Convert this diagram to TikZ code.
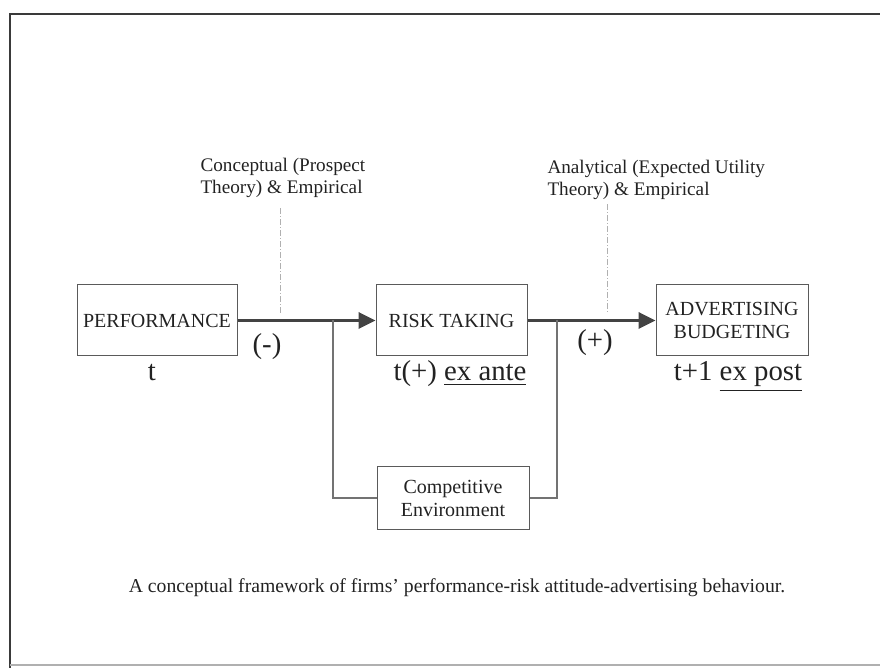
\documentclass[tikz,border=0pt]{standalone}
\usepackage{fontspec}
\setmainfont{Liberation Serif}
\usetikzlibrary{arrows.meta, positioning}
\definecolor{cink}{HTML}{222222}
\definecolor{cframe}{HTML}{3A3A3A}
\definecolor{cbox}{HTML}{5A5A5A}
\definecolor{cguide}{HTML}{B0B0B0}
\tikzset{
  every picture/.style={line width=0.5pt},
  box/.style={draw=cbox, text=cink, align=center, inner sep=2pt, minimum width=#1, minimum height=35.5pt, font=\fontsize{10}{11.5}\selectfont},
  box/.default=76pt,
  link/.style={-{Triangle[length=8.5pt, width=8pt]}, draw=cink!85, line width=1.7pt},
  feed/.style={draw=cbox!85, line width=0.6pt},
  guide/.style={draw=cguide, dash pattern=on 3pt off 1pt on 0.5pt off 1pt, line width=0.5pt},
  source/.style={font=\fontsize{9.6}{11}\selectfont, text=cink, align=left, anchor=north west, inner sep=0pt},
  sign/.style={font=\Large, text=cink},
  period/.style={font=\Large, text=cink, anchor=base},
}
\begin{document}
\begin{tikzpicture}[x=0.5pt, y=-0.5pt]
  \useasboundingbox (0,0) rectangle (880,668);
  % page frame
  \draw[cframe, line width=0.8pt] (880,14) -- (10,14) -- (10,668);
  \draw[cguide, line width=0.8pt] (10,665) -- (880,665);

  % boxes
  \node[box=80pt] (perf) at (157,320.5) {PERFORMANCE};
  \node[box=75.5pt] (risk) at (451.5,320.5) {RISK TAKING};
  \node[box] (adv) at (732,320.5) {ADVERTISING\\BUDGETING};
  \node[box, minimum height=31.5pt] (env) at (453,498) {Competitive\\Environment};

  % sources
  \node[source] (src1) at (200,158) {Conceptual (Prospect\\Theory) \& Empirical};
  \node[source] (src2) at (547,160) {Analytical (Expected Utility\\Theory) \& Empirical};

  % main links
  \draw[link] (perf.east) -- (risk.west);
  \draw[link] (risk.east) -- (adv.west);

  % competitive environment loop
  \coordinate (tap1) at (333,320.5);
  \coordinate (tap2) at (557,320.5);
  \draw[feed] (tap1) |- (env.west);
  \draw[feed] (tap2) |- (env.east);

  % guides from sources
  \coordinate (g1) at (280,313);
  \coordinate (g2) at (607,312);
  \draw[guide] ([yshift=-5pt]g1 |- src1.south) -- (g1);
  \draw[guide] ([yshift=-2pt]g2 |- src2.south) -- (g2);

  % signs and periods
  \node[sign] (minus) at (267,347) {(-)};
  \node[sign] (plus) at (595,343) {(+)};
  \node[period] (tnow) at (152,381) {t};
  \node[period] (tante) at (460,381) {t(+) \underline{ex ante}};
  \node[period] (tpost) at (738,381) {t+1 \underline{ex post}};

  \node[font=\fontsize{9.85}{11}\selectfont, text=cink, anchor=base] (caption) at (457,593) {A conceptual framework of firms' performance-risk attitude-advertising behaviour.};
\end{tikzpicture}
\end{document}
